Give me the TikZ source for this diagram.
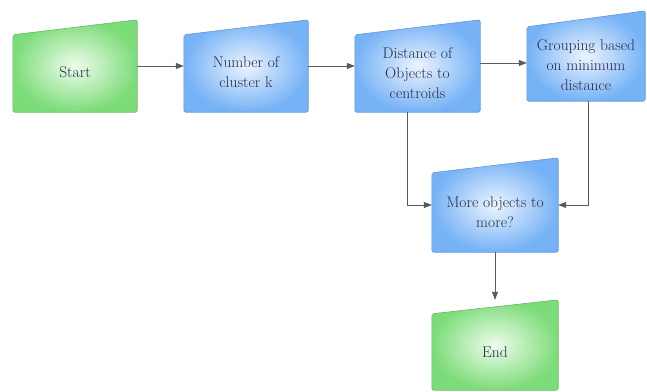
\documentclass[tikz,border=0pt]{standalone}
\usetikzlibrary{arrows.meta,calc}
\definecolor{gOut}{HTML}{7DDC7A}
\definecolor{gIn}{HTML}{EEFCEB}
\definecolor{gLine}{HTML}{69B866}
\definecolor{bOut}{HTML}{76B2F6}
\definecolor{bIn}{HTML}{ECF4FE}
\definecolor{bLine}{HTML}{6598D2}
\definecolor{txt}{HTML}{262C48}
\definecolor{arrc}{HTML}{5A5A5A}
\tikzset{
  x=1pt,y=1pt,
  boxarea/.style={draw=none,inner sep=0pt,minimum width=#1},
  lbl/.style={text=txt,font=\rmfamily\fontsize{15.5}{20}\selectfont,align=center,inner sep=0pt},
  greenfill/.style={draw=gLine,line width=0.6pt,rounded corners=2pt,inner color=gIn,outer color=gOut},
  bluefill/.style={draw=bLine,line width=0.6pt,rounded corners=2pt,inner color=bIn,outer color=bOut},
  arr/.style={draw=arrc,line width=0.7pt,-{Triangle[length=8pt,width=6pt]}},
  conn/.style={draw=arrc,line width=0.7pt}
}
\newcommand{\manin}[3]{% node, drop, style
  \path[#3] (#1.south west) -- (#1.south east) -- (#1.north east) -- ([yshift=-#2pt]#1.north west) -- cycle;}
\begin{document}
\begin{tikzpicture}
\useasboundingbox (0,0) rectangle (647,-391);
% boxes (extents)
\node[boxarea=124, minimum height=92] (start) at (75,-66) {};
\node[boxarea=124, minimum height=92] (num) at (246,-66) {};
\node[boxarea=125, minimum height=92] (dist) at (417.5,-66) {};
\node[boxarea=118, minimum height=90] (grp) at (586,-56) {};
\node[boxarea=126, minimum height=94] (more) at (495,-205) {};
\node[boxarea=126, minimum height=90] (end) at (495,-345) {};
\manin{start}{15}{greenfill}
\manin{num}{15}{bluefill}
\manin{dist}{15}{bluefill}
\manin{grp}{16}{bluefill}
\manin{more}{15}{bluefill}
\manin{end}{14}{greenfill}
% labels
\node[lbl] (startT) at (75,-72) {Start};
\node[lbl] (numT) at (246,-72) {Number of\\cluster k};
\node[lbl] (distT) at (417.5,-73) {Distance of\\Objects to\\centroids};
\node[lbl] (grpT) at (586,-65) {Grouping based\\on minimum\\distance};
\node[lbl] (moreT) at (495,-212) {More objects to\\more?};
\node[lbl] (endT) at (495,-352) {End};
% connectors
\draw[arr] (start.east) -- (num.west);
\draw[arr] (num.east) -- (dist.west);
\draw[arr] ([yshift=3pt]dist.east) -- ([yshift=3pt]dist.east -| grp.west);
\draw[arr] ([xshift=-10.5pt]dist.south) |- (more.west);
\draw[arr] ([xshift=2pt]grp.south) |- (more.east);
\draw[arr] (more.south) -- (end.north);
\end{tikzpicture}
\end{document}
